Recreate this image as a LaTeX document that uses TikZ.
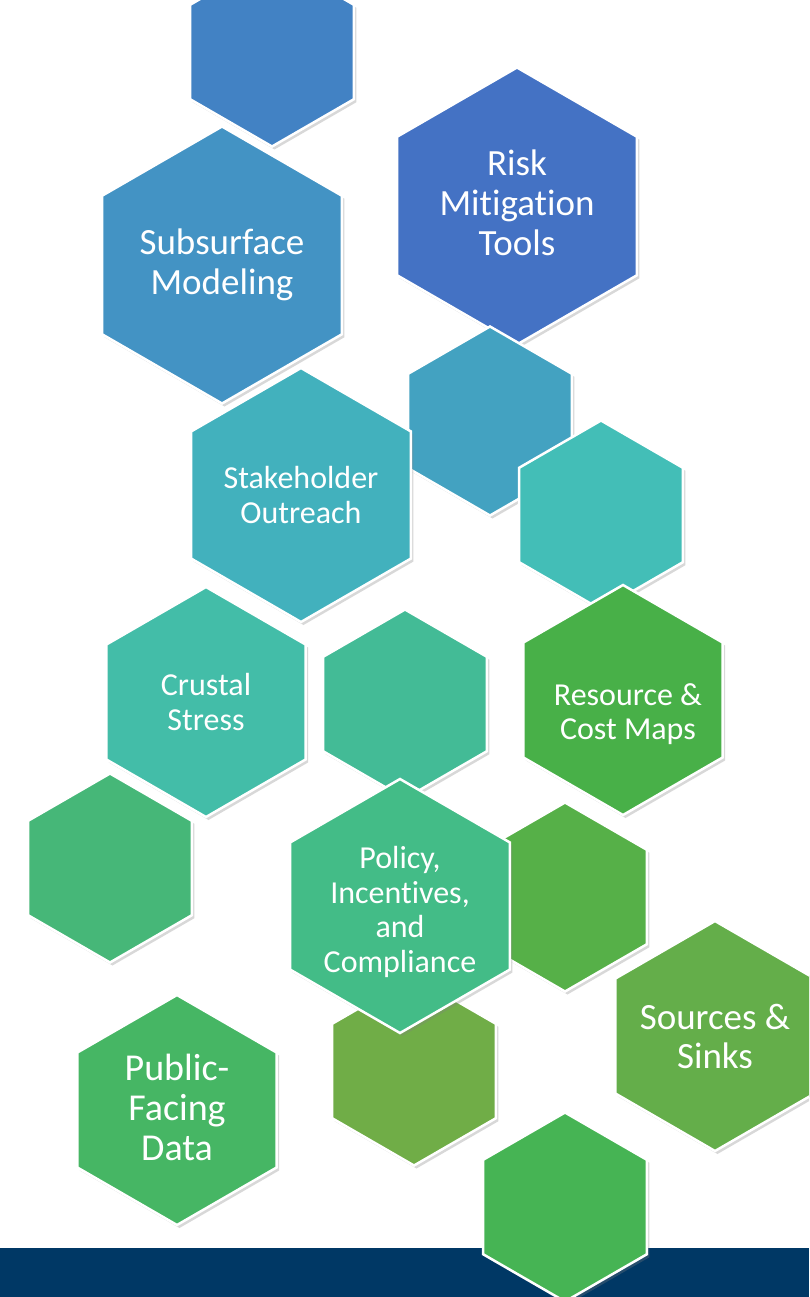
\documentclass[tikz,border=0pt]{standalone}
\usepackage{fontspec}
\setmainfont{Carlito}[Ligatures=NoCommon]
\usetikzlibrary{shapes.geometric,shadows}

\definecolor{topblue}{HTML}{4282C4}
\definecolor{subblue}{HTML}{4393C4}
\definecolor{riskblue}{HTML}{4472C4}
\definecolor{midblue}{HTML}{43A2C1}
\definecolor{staketeal}{HTML}{42B1BD}
\definecolor{rightteal}{HTML}{43BEB7}
\definecolor{crustteal}{HTML}{43BDA8}
\definecolor{midteal}{HTML}{43BB96}
\definecolor{resgreen}{HTML}{48B048}
\definecolor{leftgreen}{HTML}{46B778}
\definecolor{polgreen}{HTML}{43BC87}
\definecolor{rightgreen}{HTML}{56B048}
\definecolor{srcgreen}{HTML}{64AE4A}
\definecolor{olive}{HTML}{70AD47}
\definecolor{pubgreen}{HTML}{46B664}
\definecolor{botgreen}{HTML}{46B454}
\definecolor{navy}{HTML}{003865}

\begin{document}
\begin{tikzpicture}[x=1pt,y=1pt]
    \tikzstyle{every node}+=[inner sep=0pt]
    \tikzstyle{hexa}=[regular polygon, regular polygon sides=6, shape border rotate=30, draw=white, line width=2.5pt, drop shadow={shadow xshift=2.5pt, shadow yshift=-3pt, opacity=0.3}]
    \tikzstyle{hexbig}=[hexa, minimum size=277pt]
    \tikzstyle{hexmid}=[hexa, minimum size=254pt]
    \tikzstyle{hexsmall}=[hexa, minimum size=230pt]
    \tikzstyle{hextiny}=[hexa, minimum size=189pt]
    \tikzstyle{bigtext}=[text=white, align=center, font=\fontsize{37}{40}\selectfont]
    \tikzstyle{midtext}=[text=white, align=center, font=\fontsize{32}{34.5}\selectfont]
    \clip (0,0) rectangle (809,-1297);
    \fill [white] (0,0) rectangle (809,-1297);
    \fill [navy] (0,-1248) rectangle (809,-1297);
    % blue row
    \node [hextiny, fill=topblue] (topblue) at (272,-52) {};
    \node [hexbig, fill=subblue] (subsurface) at (222,-265) {};
    \node [bigtext] (subsurfacetext) at (subsurface) {Subsurface\\Modeling};
    \node [hexbig, fill=riskblue] (risk) at (517,-206) {};
    \node [bigtext] (risktext) at ([shift={(0,3)}]risk.center) {Risk\\Mitigation\\Tools};
    \node [hextiny, fill=midblue] (midblue) at (490,-421) {};
    \node [hextiny, fill=rightteal] (rightteal) at (601,-515) {};
    \node [hexmid, fill=staketeal] (stakeholder) at (301,-495) {};
    \node [midtext] (stakeholdertext) at (stakeholder) {Stakeholder\\Outreach};
    % teal row
    \node [hexsmall, fill=crustteal] (crustal) at (206,-702) {};
    \node [midtext] (crustaltext) at (crustal) {Crustal\\Stress};
    \node [hextiny, fill=midteal] (midteal) at (405,-704) {};
    \node [hexsmall, fill=resgreen] (resource) at (623,-700) {};
    \node [midtext] (resourcetext) at ([shift={(5,-14)}]resource.center) {Resource \&\\Cost Maps};
    % green rows
    \node [hextiny, fill=leftgreen] (leftgreen) at (110,-868) {};
    \node [hextiny, fill=rightgreen] (rightgreen) at (565,-897) {};
    \node [hextiny, fill=olive] (olive) at (414,-1071) {};
    \node [hexmid, fill=polgreen] (policy) at (400,-906) {};
    \node [midtext] (policytext) at ([shift={(0,-6)}]policy.center) {Policy,\\Incentives,\\and\\Compliance};
    \node [hexsmall, fill=srcgreen] (sources) at (715,-1036) {};
    \node [bigtext, font=\fontsize{37}{39}\selectfont] (sourcestext) at (sources) {Sources \&\\Sinks};
    \node [hexsmall, fill=pubgreen] (public) at (177,-1110) {};
    \node [bigtext, font=\fontsize{38}{40}\selectfont] (publictext) at ([shift={(0,3)}]public.center) {Public-\\Facing\\Data};
    \node [hextiny, fill=botgreen] (botgreen) at (565,-1207) {};
\end{tikzpicture}
\end{document}
